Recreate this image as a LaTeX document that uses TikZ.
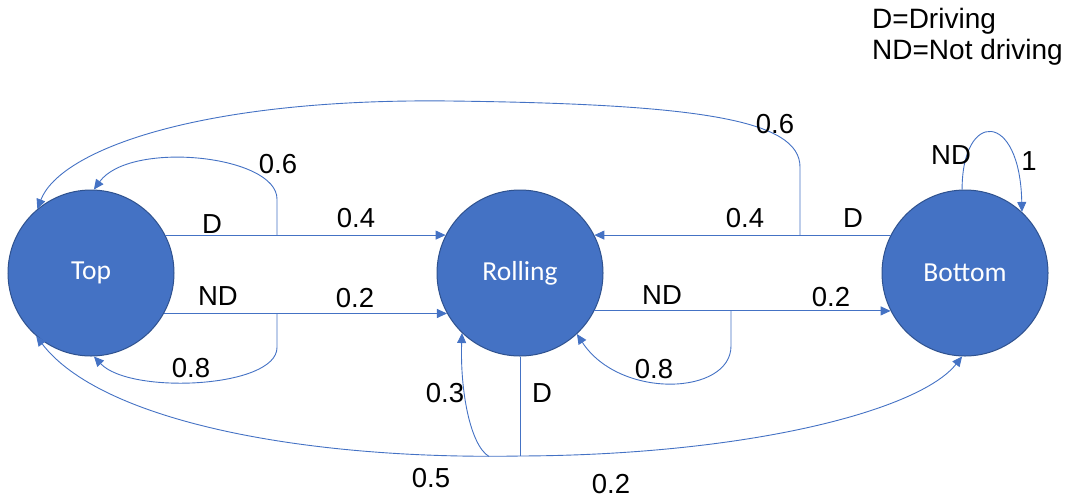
\documentclass[tikz,border=0pt]{standalone}
\usepackage{fontspec}
\setmainfont{Liberation Sans}
\newfontfamily\calibrifont{Carlito}
\usetikzlibrary{arrows.meta}
\definecolor{nodeblue}{HTML}{4472C4}
\definecolor{nodeedge}{HTML}{2F528F}
\begin{document}
\begin{tikzpicture}[x=1pt,y=-1pt,
  state/.style={circle,fill=nodeblue,draw=nodeedge,line width=1pt,minimum size=166pt,inner sep=0pt,text=white,font=\calibrifont\fontsize{27.5}{32}\selectfont},
  link/.style={draw=nodeblue,line width=0.9pt},
  arr/.style={link,-{Triangle[length=10pt,width=9pt]}},
  lbl/.style={anchor=base,inner sep=0pt,font=\fontsize{27.5}{32}\selectfont},
  legend/.style={anchor=base west,inner sep=0pt,font=\fontsize{28}{32}\selectfont}]
\useasboundingbox (0,0) rectangle (1067,499);
% states
\node[state] (T) at (91,273) {Top};
\node[state] (R) at (520,273) {Rolling};
\node[state] (B) at (965,273) {Bottom};
% helper coordinates
\coordinate (k1) at (277,0);
\coordinate (k2) at (800,0);
\coordinate (k3) at (731,0);
\coordinate (k4) at (0,456);
\coordinate (c1) at (T.27 -| k1);
\coordinate (c3) at (T.-29 -| k1);
\coordinate (c2) at (B.153 -| k2);
\coordinate (c4) at (R.-27 -| k3);
\coordinate (j) at (R.south |- k4);
\coordinate (j2) at (489,456.5);
\coordinate (peak) at (450,101);
% Top -> Rolling (D) and Top self loop
\draw[arr] (T.27) -- (R.153);
\draw[arr] (c1) -- ++(0,-36) .. controls (277,155) and (130,140) .. (T.88);
% Top -> Rolling (ND) and Top self loop
\draw[arr] (T.-29) -- (R.209);
\draw[arr] (c3) -- ++(0,34) .. controls (277,388) and (130,395) .. (T.-88);
% Bottom -> Rolling (D) and Bottom -> Top
\draw[arr] (B.153) -- (R.27);
\draw[arr] (c2) -- ++(0,-68) .. controls (800,120) and (700,104) .. (peak) .. controls (200,98) and (60,150) .. (T.130);
% Rolling -> Bottom (ND) and Rolling self loop
\draw[arr] (R.-27) -- (B.207);
\draw[arr] (c4) -- ++(0,35) .. controls (731,395) and (620,400) .. (R.-47);
% Bottom self loop
\draw[arr] (B.92) .. controls (962,110) and (1020,110) .. (B.47);
% Rolling D branches
\draw[link] (R.south) -- (j);
\draw[arr] (j) .. controls (300,460) and (100,420) .. (T.229);
\draw[arr] (j) .. controls (750,455) and (920,410) .. (B.-92);
\draw[arr] (j2) .. controls (470,445) and (460,390) .. (R.226);
% labels
\node[lbl] (a1) at (278,173) {0.6};
\node[lbl] (a2) at (212,233) {D};
\node[lbl] (a3) at (356,227) {0.4};
\node[lbl] (a4) at (218,305) {ND};
\node[lbl] (a5) at (355,307) {0.2};
\node[lbl] (a6) at (191,377) {0.8};
\node[lbl] (a7) at (775,133) {0.6};
\node[lbl] (a8) at (745,227) {0.4};
\node[lbl] (a9) at (853,227) {D};
\node[lbl] (a10) at (951,164) {ND};
\node[lbl] (a11) at (1029,170) {1};
\node[lbl] (a12) at (662,304) {ND};
\node[lbl] (a13) at (831,306) {0.2};
\node[lbl] (a14) at (654,378) {0.8};
\node[lbl] (a15) at (445,402) {0.3};
\node[lbl] (a16) at (542,402) {D};
\node[lbl] (a17) at (431,487) {0.5};
\node[lbl] (a18) at (611,493) {0.2};
% legend
\node[legend] (leg1) at (872,28) {D=Driving};
\node[legend] (leg2) at (872,59) {ND=Not driving};
\end{tikzpicture}
\end{document}
